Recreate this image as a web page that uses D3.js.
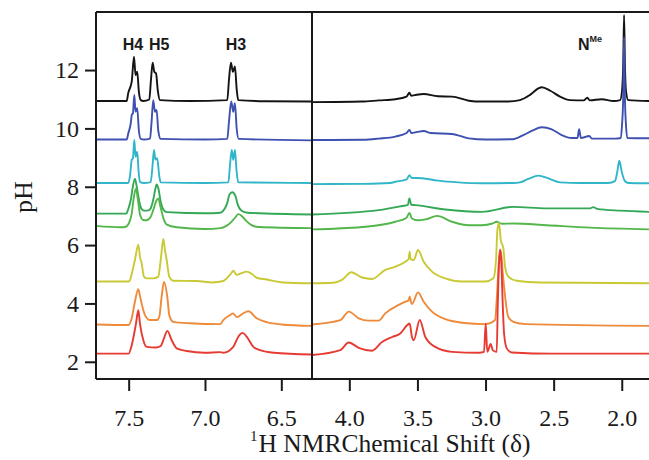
<!DOCTYPE html>
<html><head><meta charset="utf-8">
<script src="https://cdn.jsdelivr.net/npm/d3@7"></script>
<style>body{margin:0;background:#fff}svg{display:block}</style>
</head><body>
<svg id="c" width="649" height="460"></svg>
<script>
// ---- data (chemical shift ppm, intensity in pH-axis units above each trace's baseline) ----
const phTicks = [2, 4, 6, 8, 10, 12];
const leftShiftTicks = [7.5, 7.0, 6.5];
const rightShiftTicks = [4.0, 3.5, 3.0, 2.5, 2.0];
const peakLabels = ["H4", "H5", "H3"];
const peakLabelShifts = [7.472, 7.300, 6.797];
const baselines = [10.94, 9.62, 8.13, 7.08, 6.58, 4.72, 3.26, 2.28];
const colors = ["#141414", "#3e50b0", "#30b6c8", "#33a857", "#52b64a", "#c9c936", "#ee8a3a", "#e63a32"];

const specBlack = [[7.714,0],[7.513,0],[7.503,0.27],[7.480,0.66],[7.465,1.52],[7.455,0.89],[7.444,1.00],[7.433,0.31],[7.421,0.03],[7.404,0],[7.365,0.05],[7.354,0.72],[7.343,1.31],[7.332,1.00],[7.321,0.95],[7.308,0.31],[7.295,0.03],[7.100,0],[6.854,0.03],[6.843,0.72],[6.830,1.31],[6.817,1.00],[6.804,1.18],[6.792,0.38],[6.782,0.03],[6.600,-0.01],[6.299,-0.02],
[4.274,-0.04],[3.907,-0.02],[3.784,0.02],[3.662,0.06],[3.580,0.15],[3.559,0.28],[3.545,0.18],[3.520,0.20],[3.454,0.24],[3.350,0.16],[3.246,0.15],[3.123,0.01],[3.026,-0.02],[2.850,-0.02],[2.747,0.03],[2.673,0.21],[2.612,0.43],[2.587,0.47],[2.524,0.35],[2.453,0.15],[2.380,0.03],[2.280,0.02],[2.253,0.11],[2.235,0.02],[2.147,0.06],[2.060,0],[2.012,0.03],[1.998,0.35],[1.989,1.30],[1.983,2.95],[1.977,1.30],[1.969,0.35],[1.952,0.03],[1.800,0]];

const specBlue = [[7.714,0],[7.513,0],[7.503,0.20],[7.485,0.60],[7.480,0.84],[7.472,0.90],[7.463,1.53],[7.455,0.95],[7.444,1.07],[7.433,0.30],[7.421,0.02],[7.400,0],[7.360,0.03],[7.350,0.60],[7.339,1.35],[7.328,0.95],[7.317,1.01],[7.306,0.30],[7.290,0.02],[7.000,0],[6.854,0.02],[6.843,0.60],[6.828,1.30],[6.815,0.95],[6.804,1.24],[6.792,0.35],[6.780,0.02],[6.299,-0.03],
[4.274,-0.02],[3.900,-0.01],[3.784,0.03],[3.662,0.10],[3.580,0.22],[3.559,0.33],[3.545,0.22],[3.500,0.26],[3.454,0.29],[3.400,0.22],[3.246,0.19],[3.123,0.04],[3.000,0],[2.800,0.01],[2.722,0.15],[2.658,0.30],[2.587,0.42],[2.514,0.35],[2.441,0.15],[2.367,0.05],[2.325,0.05],[2.313,0.35],[2.300,0.05],[2.238,0.12],[2.220,0.03],[2.050,0.03],[2.007,0.05],[1.998,0.50],[1.989,1.50],[1.983,3.51],[1.977,1.50],[1.969,0.50],[1.959,0.05],[1.800,0.04]];

const specCyan = [[7.714,0],[7.503,0],[7.491,0.25],[7.480,0.79],[7.472,0.85],[7.463,1.47],[7.455,0.90],[7.444,1.07],[7.435,0.40],[7.426,0.03],[7.400,0],[7.356,0.03],[7.345,0.50],[7.334,1.13],[7.325,0.80],[7.313,0.85],[7.300,0.25],[7.290,0.02],[7.000,0],[6.847,0.02],[6.838,0.50],[6.825,1.13],[6.815,0.79],[6.804,1.13],[6.793,0.40],[6.782,0.02],[6.299,0],
[4.274,-0.04],[3.900,-0.03],[3.700,0],[3.662,0.04],[3.580,0.12],[3.559,0.27],[3.545,0.18],[3.466,0.16],[3.350,0.08],[3.200,0.02],[3.026,-0.01],[2.800,0],[2.747,0.02],[2.686,0.14],[2.612,0.25],[2.539,0.16],[2.453,0.02],[2.300,0],[2.100,0],[2.050,0.06],[2.033,0.38],[2.018,0.76],[2.000,0.38],[1.976,0.06],[1.950,0],[1.800,-0.01]];

const specGreen1 = [[7.714,0],[7.515,0],[7.503,0.15],[7.485,0.50],[7.475,0.85],[7.459,1.20],[7.445,0.85],[7.430,0.40],[7.415,0.15],[7.400,0.10],[7.380,0.10],[7.360,0.15],[7.340,0.45],[7.325,0.85],[7.317,1.00],[7.305,0.85],[7.290,0.40],[7.270,0.12],[7.250,0.05],[7.000,0.01],[6.900,0.03],[6.880,0.10],[6.855,0.35],[6.840,0.65],[6.822,0.73],[6.800,0.60],[6.788,0.35],[6.760,0.10],[6.720,0.03],[6.299,-0.03],
[4.274,-0.03],[3.784,0.12],[3.613,0.26],[3.570,0.30],[3.559,0.52],[3.545,0.30],[3.515,0.29],[3.295,0.14],[3.026,0.06],[2.796,0.23],[2.551,0.18],[2.233,0.18],[2.209,0.22],[2.180,0.16],[2.012,0.10],[1.800,0.06]];

const specGreen2 = [[7.714,0.08],[7.550,0.03],[7.520,0.05],[7.500,0.15],[7.480,0.50],[7.465,1.10],[7.452,1.35],[7.440,1.00],[7.425,0.45],[7.405,0.28],[7.385,0.27],[7.360,0.35],[7.340,0.60],[7.318,0.95],[7.306,1.02],[7.290,0.70],[7.270,0.30],[7.250,0.12],[7.185,0.03],[7.000,-0.03],[6.900,0],[6.860,0.08],[6.830,0.20],[6.800,0.38],[6.782,0.48],[6.760,0.42],[6.730,0.25],[6.700,0.12],[6.650,0.04],[6.299,0],
[4.274,-0.04],[3.907,0.04],[3.662,0.22],[3.580,0.36],[3.559,0.52],[3.540,0.33],[3.500,0.27],[3.442,0.30],[3.356,0.42],[3.246,0.22],[3.123,0.10],[3.026,0.10],[2.950,0.16],[2.918,0.22],[2.880,0.15],[2.796,0.16],[2.551,0.10],[2.233,0.02],[1.800,-0.04]];

const specYellow = [[7.714,0.03],[7.500,0.03],[7.491,0.09],[7.475,0.40],[7.459,0.77],[7.437,1.29],[7.425,0.85],[7.415,0.66],[7.400,0.20],[7.382,0.14],[7.339,0.14],[7.306,0.20],[7.290,0.77],[7.273,1.49],[7.262,1.10],[7.251,0.77],[7.234,0.20],[7.208,0.06],[7.054,0.05],[6.950,0],[6.880,0.05],[6.858,0.14],[6.830,0.30],[6.815,0.40],[6.800,0.30],[6.792,0.26],[6.760,0.32],[6.727,0.37],[6.690,0.28],[6.661,0.16],[6.596,0.10],[6.487,0],[6.299,-0.03],
[4.274,-0.03],[4.120,-0.01],[4.054,0.09],[3.985,0.35],[3.907,0.17],[3.833,0.12],[3.736,0.43],[3.662,0.54],[3.589,0.71],[3.565,0.80],[3.557,1.05],[3.550,0.80],[3.527,0.77],[3.496,1.11],[3.454,0.71],[3.393,0.37],[3.295,0.14],[3.173,0.03],[3.001,0.03],[2.943,0.14],[2.923,0.77],[2.913,1.80],[2.901,2.05],[2.888,1.45],[2.869,1.17],[2.857,0.54],[2.833,0.20],[2.771,0.06],[2.600,0],[1.800,-0.03]];

const specOrange = [[7.714,0.02],[7.500,0],[7.480,0.23],[7.459,0.80],[7.437,1.23],[7.426,1.00],[7.415,0.74],[7.393,0.34],[7.360,0.17],[7.313,0.17],[7.299,0.29],[7.284,0.97],[7.269,1.48],[7.247,0.97],[7.234,0.34],[7.208,0.11],[7.100,0.06],[6.900,0.03],[6.880,0.17],[6.830,0.36],[6.818,0.40],[6.790,0.27],[6.750,0.40],[6.716,0.47],[6.661,0.23],[6.596,0.10],[6.500,0.02],[6.299,-0.03],
[4.274,0.02],[4.066,0.17],[4.004,0.46],[3.931,0.23],[3.858,0.15],[3.784,0.15],[3.736,0.40],[3.637,0.69],[3.589,0.80],[3.565,0.85],[3.557,0.97],[3.545,0.75],[3.540,0.72],[3.496,1.12],[3.454,0.80],[3.393,0.46],[3.295,0.20],[3.173,0.08],[3.001,0.03],[2.930,0.17],[2.918,0.86],[2.900,2.30],[2.888,2.55],[2.874,1.80],[2.864,1.31],[2.833,0.28],[2.796,0.11],[2.700,0.03],[1.800,-0.03]];

const specRed = [[7.714,0],[7.500,0],[7.480,0.29],[7.452,1.03],[7.437,1.49],[7.426,1.03],[7.404,0.46],[7.382,0.23],[7.321,0.21],[7.290,0.26],[7.273,0.46],[7.247,0.78],[7.218,0.46],[7.185,0.18],[7.120,0.09],[7.000,0.03],[6.902,0.05],[6.880,0.03],[6.815,0.23],[6.782,0.58],[6.753,0.71],[6.727,0.58],[6.683,0.23],[6.640,0.12],[6.550,0.03],[6.299,-0.03],
[4.274,-0.05],[4.066,0.12],[4.004,0.38],[3.931,0.20],[3.833,0.10],[3.760,0.40],[3.686,0.57],[3.626,0.69],[3.576,0.97],[3.557,1.03],[3.540,0.57],[3.527,0.46],[3.483,1.15],[3.442,0.57],[3.369,0.23],[3.246,0.06],[3.050,0.03],[3.011,0.06],[2.999,1.03],[2.987,0.06],[2.962,0.33],[2.947,0.12],[2.918,0.06],[2.910,1.72],[2.901,3.10],[2.893,3.57],[2.884,3.10],[2.874,1.72],[2.864,0.69],[2.844,0.18],[2.808,0.04],[2.500,0],[1.800,0]];

const spectra = [specBlack, specBlue, specCyan, specGreen1, specGreen2, specYellow, specOrange, specRed];

// ---- layout ----
const L = 96, MID = 312, R = 649, T = 12, B = 379;
const svg = d3.select("#c");
const y = d3.scaleLinear().domain([1.41, 13.99]).range([B, T]);
const xL = d3.scaleLinear().domain([7.714, 6.299]).range([L, MID]);
const xR = d3.scaleLinear().domain([4.274, 1.80]).range([MID, R]);

const defs = svg.append("defs");
defs.append("clipPath").attr("id","clipL").append("rect").attr("x",L).attr("y",T).attr("width",MID-L).attr("height",B-T);
defs.append("clipPath").attr("id","clipR").append("rect").attr("x",MID).attr("y",T).attr("width",R-MID+2).attr("height",B-T);

const gL = svg.append("g").attr("clip-path","url(#clipL)");
const gR = svg.append("g").attr("clip-path","url(#clipR)");

spectra.forEach((s, i) => {
  const base = baselines[i];
  const left = s.filter(d => d[0] > 5);
  const right = s.filter(d => d[0] < 5);
  const lineL = d3.line().x(d => xL(d[0])).y(d => y(base + d[1])).curve(d3.curveMonotoneX);
  const lineR = d3.line().x(d => xR(d[0])).y(d => y(base + d[1])).curve(d3.curveMonotoneX);
  gL.append("path").attr("d", lineL(left)).attr("fill","none").attr("stroke",colors[i]).attr("stroke-width",1.9).attr("stroke-linejoin","round");
  gR.append("path").attr("d", lineR(right)).attr("fill","none").attr("stroke",colors[i]).attr("stroke-width",1.9).attr("stroke-linejoin","round");
});

// frame
svg.append("path")
  .attr("d", `M${L},${T}H${R+5}M${L},${B}H${R+5}M${L},${T}V${B}M${MID},${T}V${B}`)
  .attr("fill","none").attr("stroke","#1a1a1a").attr("stroke-width",2);

const tickFont = "'Liberation Serif','Times New Roman',serif";

function styleAxis(g){
  g.select(".domain").remove();
  g.selectAll(".tick line").attr("stroke","#1a1a1a").attr("stroke-width",2);
  g.selectAll(".tick text").attr("fill","#1a1a1a").style("font-family",tickFont).style("font-size","24px");
}

svg.append("g").attr("transform",`translate(0,${B})`)
  .call(d3.axisBottom(xL).tickValues(leftShiftTicks).tickFormat(d3.format(".1f")).tickSize(12).tickPadding(18))
  .call(styleAxis);
svg.append("g").attr("transform",`translate(0,${B})`)
  .call(d3.axisBottom(xR).tickValues(rightShiftTicks).tickFormat(d3.format(".1f")).tickSize(12).tickPadding(18))
  .call(styleAxis);
svg.append("g").attr("transform",`translate(${L},0)`)
  .call(d3.axisLeft(y).tickValues(phTicks).tickFormat(d3.format("d")).tickSize(11).tickPadding(6))
  .call(styleAxis);

// axis titles
const xt = svg.append("text").attr("x", 250).attr("y", 452)
  .style("font-family", tickFont).style("font-size","25.5px").attr("fill","#1a1a1a");
xt.append("tspan").text("1").style("font-size","15px").attr("dy","-11");
xt.append("tspan").text("H NMRChemical Shift (δ)").attr("dx","1").attr("dy","11");

svg.append("text").attr("transform","translate(32,197) rotate(-90)")
  .attr("text-anchor","middle")
  .style("font-family", tickFont).style("font-size","26px").attr("fill","#1a1a1a").text("pH");

// peak labels
const lblFont = "'Liberation Sans',Arial,sans-serif";
peakLabels.forEach((t, i) => {
  svg.append("text").attr("x", xL(peakLabelShifts[i])).attr("y", 50).attr("text-anchor","middle")
    .style("font-family", lblFont).style("font-weight","bold").style("font-size","16px").attr("fill","#1a1a1a").text(t);
});
const nme = svg.append("text").attr("x", 578).attr("y", 50)
  .style("font-family", lblFont).style("font-weight","bold").style("font-size","16px").attr("fill","#1a1a1a");
nme.append("tspan").text("N");
nme.append("tspan").text("Me").style("font-size","9px").attr("dy","-8");
</script>
</body></html>
